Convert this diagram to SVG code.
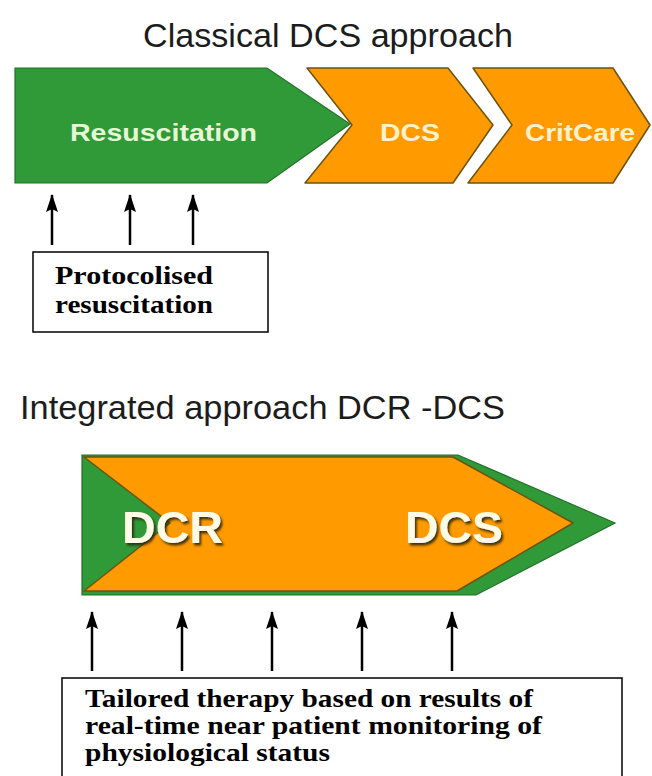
<svg xmlns="http://www.w3.org/2000/svg" width="652" height="776" viewBox="0 0 652 776">
<style>
.title{font-family:"Liberation Sans",Arial,sans-serif;font-size:33px;fill:#1c1c1c}
.lbl{font-family:"Liberation Sans",Arial,sans-serif;font-weight:bold;font-size:24px}
.big{font-family:"Liberation Sans",Arial,sans-serif;font-weight:bold;font-size:44px;fill:#fffbe6}
.note{font-family:"Liberation Serif","Times New Roman",serif;font-weight:bold;font-size:26px;fill:#000}
.green{fill:#2f9a37;stroke:#23702a;stroke-width:1.2}
.orange{fill:#ff9a00;stroke:#6b5410;stroke-width:1.5;stroke-linejoin:round}
.box{fill:#fff;stroke:#000;stroke-width:1.5}
.arr{stroke:#000;stroke-width:2.5;fill:none;marker-end:url(#ah)}
</style>
<defs>
<marker id="ah" markerUnits="userSpaceOnUse" viewBox="0 0 18 12" markerWidth="18" markerHeight="12" refX="17" refY="6" orient="auto">
<path d="M0,0 L18,6 L0,12 L3,6 Z" fill="#000"/>
</marker>
<filter id="sh" x="-10%" y="-10%" width="130%" height="140%">
<feDropShadow dx="2" dy="2.5" stdDeviation="0.8" flood-color="#2e2a10" flood-opacity="0.9"/>
</filter>
</defs>
<rect width="652" height="776" fill="#fff"/>

<text class="title" x="143" y="47" textLength="370" lengthAdjust="spacingAndGlyphs">Classical DCS approach</text>

<g id="resuscitation">
<polygon class="green" points="15,68 267,68 350,124 267,183 15,183"/>
<text class="lbl" x="70" y="141" fill="#e6f7d6" textLength="187" lengthAdjust="spacingAndGlyphs">Resuscitation</text>
</g>
<g id="dcs-top">
<polygon class="orange" points="307,68 448,68 493,125 453,183 305,183 352,125"/>
<text class="lbl" x="380" y="141" fill="#fff1c8" textLength="60" lengthAdjust="spacingAndGlyphs">DCS</text>
</g>
<g id="critcare">
<polygon class="orange" points="473,68 613,68 650,125 613,183 468,183 512,125"/>
<text class="lbl" x="525" y="141" fill="#fff1c8" textLength="110" lengthAdjust="spacingAndGlyphs">CritCare</text>
</g>

<g id="protocolised">
<rect class="box" x="33" y="252" width="235" height="80"/>
<text class="note" x="55" y="284" textLength="158" lengthAdjust="spacingAndGlyphs">Protocolised</text>
<text class="note" x="55" y="313" textLength="158" lengthAdjust="spacingAndGlyphs">resuscitation</text>
</g>

<text class="title" x="20" y="419" textLength="485" lengthAdjust="spacingAndGlyphs">Integrated approach DCR -DCS</text>

<g id="dcr-dcs">
<polygon class="green" points="82,455 458,455 615,523 476,595 82,595"/>
<polygon class="orange" points="84,457 453,457 573,523 457,591 84,591 170,523"/>
<text class="big" x="122" y="543" textLength="101" lengthAdjust="spacingAndGlyphs" filter="url(#sh)">DCR</text>
<text class="big" x="405" y="543" textLength="98" lengthAdjust="spacingAndGlyphs" filter="url(#sh)">DCS</text>
</g>

<g id="tailored">
<rect class="box" x="62" y="678" width="560" height="120"/>
<text class="note" x="85" y="707" textLength="448" lengthAdjust="spacingAndGlyphs">Tailored therapy based on results of</text>
<text class="note" x="85" y="734" textLength="457" lengthAdjust="spacingAndGlyphs">real-time near patient monitoring of</text>
<text class="note" x="85" y="761" textLength="245" lengthAdjust="spacingAndGlyphs">physiological status</text>
</g>

<g id="connectors">
<line class="arr" x1="52" y1="245" x2="52" y2="195"/>
<line class="arr" x1="130" y1="245" x2="130" y2="195"/>
<line class="arr" x1="193" y1="245" x2="193" y2="195"/>
<line class="arr" x1="92" y1="671" x2="92" y2="612"/>
<line class="arr" x1="182" y1="671" x2="182" y2="612"/>
<line class="arr" x1="272" y1="671" x2="272" y2="612"/>
<line class="arr" x1="362" y1="671" x2="362" y2="612"/>
<line class="arr" x1="452" y1="671" x2="452" y2="612"/>
</g>
</svg>
